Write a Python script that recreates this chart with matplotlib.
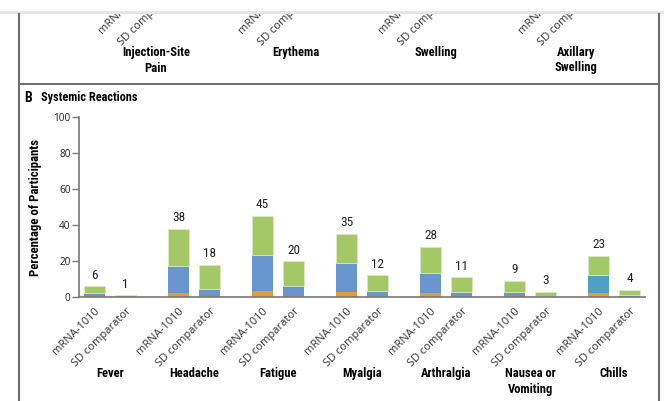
import matplotlib
matplotlib.use("Agg")
import matplotlib.pyplot as plt
import numpy as np
from matplotlib.patches import Rectangle
from matplotlib.lines import Line2D
from matplotlib import font_manager

# narrow sans face for headings, plain sans for small labels
fonts = font_manager.fontManager.ttflist
names = {f.name for f in fonts}
narrow = None
for fam in ["Liberation Sans Narrow", "Roboto Condensed", "Open Sans Condensed",
            "Noto Sans Condensed", "DejaVu Sans Condensed", "Noto Sans", "Open Sans",
            "Roboto", "DejaVu Sans"]:
    hits = [f for f in fonts if f.name == fam and
            ("Narrow" in fam or "Condensed" in fam or f.stretch in ("condensed", "semi-condensed"))]
    if hits:
        narrow = fam
        stretch = "normal" if ("Narrow" in fam or "Condensed" in fam) else "condensed"
        break
if narrow:
    plt.rcParams['font.family'] = [narrow, 'DejaVu Sans']
    plt.rcParams['font.stretch'] = stretch
    scale = 1.0
else:
    plt.rcParams['font.family'] = ['Liberation Sans', 'DejaVu Sans']
    scale = 0.85
small = next((f for f in ["Open Sans", "Lato", "Liberation Sans"] if f in names), "DejaVu Sans")
small_kw = dict(family=small, fontstretch="normal", fontweight="normal")

# systemic reactions, % of participants
events = ["Fever", "Headache", "Fatigue", "Myalgia", "Arthralgia",
          "Nausea or\nVomiting", "Chills"]
total_mrna = [6, 38, 45, 35, 28, 9, 23]
grade2_mrna = [1.7, 15.0, 19.8, 16.1, 11.3, 2.5, 9.8]
grade3_mrna = [0.7, 2.0, 3.3, 2.8, 2.0, 0.3, 2.2]
total_sd = [1, 18, 20, 12, 11, 3, 4]
grade2_sd = [0.2, 4.0, 5.8, 2.8, 2.8, 0.7, 1.1]
grade3_sd = [0.0, 0.3, 0.3, 0.3, 0.0, 0.0, 0.0]

# local reactions (panel A, only its bottom part is in view)
local_events = ["Injection-Site\nPain", "Erythema", "Swelling", "Axillary\nSwelling"]
arm_labels = ["mRNA-1010", "SD comparator"]

green = "#a4c866"
blue = "#6996cf"
teal = "#4fa0c3"
orange = "#e79b34"
frame = "#6e6e6e"

fig = plt.figure(figsize=(6.64, 4.01), dpi=100)
W, H = 664, 401


def fx(px):
    return px / W


def fy(py):
    return 1 - py / H


fs_tick = 8.0
fs_ytick = 7.2
fs_cat = 9.0 * scale
fs_val = 9.5 * scale

ax = fig.add_axes([fx(79), fy(297), fx(645) - fx(79), fy(117) - fy(297)])
x = np.arange(len(events))
off, bw = 0.1845, 0.25

g1_mrna = np.array(total_mrna) - np.array(grade2_mrna) - np.array(grade3_mrna)
g1_sd = np.array(total_sd) - np.array(grade2_sd) - np.array(grade3_sd)
mid_colors = [blue] * len(events)
mid_colors[-1] = teal

for pos, g3, g2, g1, tot, cols in [
        (x - off, grade3_mrna, grade2_mrna, g1_mrna, total_mrna, mid_colors),
        (x + off, grade3_sd, grade2_sd, g1_sd, total_sd, [blue] * len(events))]:
    ax.bar(pos, g3, bw, color=orange, linewidth=0)
    ax.bar(pos, g2, bw, bottom=g3, color=cols, linewidth=0)
    ax.bar(pos, g1, bw, bottom=np.array(g3) + np.array(g2), color=green,
           edgecolor="#dcebc4", linewidth=0.6)
    for p, t in zip(pos, tot):
        ax.text(p, t + 2.5, str(t), ha="center", va="bottom", fontsize=fs_val,
                color="#222222")

ax.set_xlim(-0.369, 6.369)
ax.set_ylim(0, 100)
yt = [0, 20, 40, 60, 80, 100]
ax.set_yticks(yt)
ax.set_yticklabels([str(v) for v in yt], fontsize=fs_ytick, color="#222222", **small_kw)
ax.tick_params(axis="y", length=5, width=1, color="#777777", pad=1)
ax.set_ylabel("Percentage of Participants", fontsize=9.2 * scale, fontweight="bold",
              labelpad=8)
ax.spines[["top", "right"]].set_visible(False)
for s in ["left", "bottom"]:
    ax.spines[s].set_color("#777777")
    ax.spines[s].set_linewidth(1.2)

ticks = np.concatenate([x - off, x + off])
ax.set_xticks(np.sort(ticks))
ax.set_xticklabels(arm_labels * len(events), rotation=45, ha="right",
                   va="top", rotation_mode="anchor", fontsize=fs_tick,
                   color="#333333", **small_kw)
ax.tick_params(axis="x", length=0, pad=6)
for i, name in enumerate(events):
    ax.annotate(name, (i, 0), xytext=(0, -70), textcoords="offset pixels",
                xycoords="data", ha="center", va="top", fontsize=fs_cat,
                fontweight="bold", annotation_clip=False, linespacing=1.25)

# panel A remnant above the figure edge
ax_top = fig.add_axes([fx(79), fy(-24), fx(645) - fx(79), 0.1])
ax_top.set_xlim((79 - 156) / 140, (645 - 156) / 140)
ax_top.set_ylim(0, 1)
xt = np.arange(len(local_events))
o2 = 15.5 / 140
ax_top.set_xticks(np.sort(np.concatenate([xt - o2, xt + o2])))
ax_top.set_xticklabels(arm_labels * len(local_events), rotation=45, ha="right",
                       va="top", rotation_mode="anchor", fontsize=fs_tick,
                       color="#333333", **small_kw)
ax_top.tick_params(axis="x", length=0, pad=6)
ax_top.set_yticks([])
for s in ax_top.spines.values():
    s.set_visible(False)
for i, name in enumerate(local_events):
    ax_top.annotate(name, (i, 0), xytext=(0, -70), textcoords="offset pixels",
                    xycoords="data", ha="center", va="top", fontsize=fs_cat,
                    fontweight="bold", annotation_clip=False, linespacing=1.25)

# header strip covering the cut-off text
fig.add_artist(Rectangle((0, fy(11)), 1, 1 - fy(11), transform=fig.transFigure,
                         facecolor="white", edgecolor="none", zorder=10))
fig.add_artist(Rectangle((0, fy(14)), 1, fy(11) - fy(14), transform=fig.transFigure,
                         facecolor="#e6e6e6", edgecolor="none", zorder=11))

# panel frame
fig.add_artist(Line2D([fx(19), fx(19)], [0, fy(14)], color=frame, lw=1.5, zorder=12))
fig.add_artist(Line2D([fx(659), fx(659)], [0, fy(14)], color=frame, lw=1.5, zorder=12))
fig.add_artist(Line2D([fx(19), fx(659)], [fy(84), fy(84)], color=frame, lw=1.5, zorder=12))

fig.text(fx(24), fy(98), "B", fontsize=10 * scale, fontweight="bold", va="center")
fig.text(fx(41), fy(98), "Systemic Reactions", fontsize=8.8 * scale,
         fontweight="bold", va="center")

fig.savefig("out.png", dpi=100)
